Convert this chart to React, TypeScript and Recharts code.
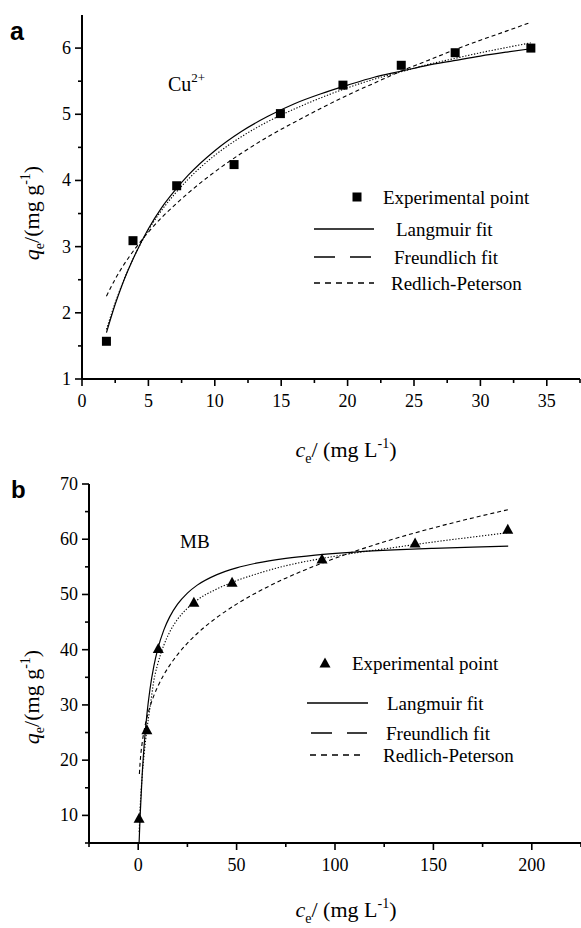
import React from 'react';
import { ComposedChart, Line, Scatter, XAxis, YAxis, Legend } from 'recharts';

// ---------- Panel a : Cu2+ ----------
const cuExpX = [1.84, 3.84, 7.13, 11.45, 14.94, 19.65, 24.04, 28.1, 33.8];
const cuExpY = [1.57, 3.09, 3.92, 4.24, 5.01, 5.44, 5.74, 5.93, 6.0];
const cuFitX = [1.84, 2.5, 3, 4, 5, 6, 7, 8, 10, 12, 14, 16, 18, 20, 22, 24, 26, 28, 30, 32, 33.8];
const cuLangmuir = [1.7, 2.13, 2.41, 2.88, 3.27, 3.59, 3.85, 4.08, 4.45, 4.74, 4.97, 5.16, 5.31, 5.44, 5.56, 5.65, 5.74, 5.81, 5.88, 5.94, 5.99];
const cuFreundlich = [2.25, 2.51, 2.68, 2.97, 3.22, 3.44, 3.63, 3.81, 4.13, 4.41, 4.66, 4.88, 5.09, 5.29, 5.47, 5.65, 5.81, 5.97, 6.12, 6.26, 6.39];
const cuRedlich = [1.75, 2.15, 2.42, 2.88, 3.25, 3.55, 3.8, 4.02, 4.38, 4.66, 4.89, 5.08, 5.25, 5.4, 5.53, 5.64, 5.75, 5.84, 5.93, 6.01, 6.08];
const aXTicks = [0, 2.5, 5, 7.5, 10, 12.5, 15, 17.5, 20, 22.5, 25, 27.5, 30, 32.5, 35, 37.5];
const aXMajor = [0, 5, 10, 15, 20, 25, 30, 35];
const aYTicks = [1, 1.5, 2, 2.5, 3, 3.5, 4, 4.5, 5, 5.5, 6];
const aYMajor = [1, 2, 3, 4, 5, 6];

// ---------- Panel b : MB ----------
const mbExpX = [0.45, 4.4, 10.2, 28.3, 47.7, 93.4, 140.7, 187.8];
const mbExpY = [9.5, 25.5, 40.2, 48.6, 52.2, 56.4, 59.3, 61.8];
const mbLangX = [0.45, 1, 2, 3, 4.4, 6, 8, 10, 13, 16, 20, 25, 30, 40, 50, 60, 75, 90, 110, 130, 150, 170, 188];
const mbLangmuir = [4.98, 10.05, 17.23, 22.61, 28.22, 32.89, 37.11, 40.2, 43.55, 45.94, 48.24, 50.25, 51.69, 53.6, 54.82, 55.66, 56.53, 57.13, 57.68, 58.07, 58.35, 58.58, 58.74];
const mbFreuX = [0.6, 1, 2, 3, 4.4, 6, 8, 10, 13, 16, 20, 25, 30, 40, 50, 60, 75, 90, 110, 130, 150, 170, 188];
const mbFreundlich = [17.5, 19.7, 23.09, 25.33, 27.66, 29.69, 31.72, 33.38, 35.45, 37.17, 39.12, 41.17, 42.93, 45.85, 48.25, 50.31, 52.95, 55.21, 57.8, 60.06, 62.06, 63.86, 65.35];
const mbRedX = [0.5, 1, 2, 3, 4.4, 6, 8, 10, 13, 16, 20, 25, 30, 40, 50, 60, 75, 90, 110, 130, 150, 170, 188];
const mbRedlich = [7.0, 11.5, 17.0, 21.0, 25.5, 29.5, 34.5, 37.5, 40.8, 43.2, 45.5, 47.5, 49.0, 51.0, 52.5, 53.7, 55.2, 56.3, 57.5, 58.5, 59.5, 60.4, 61.2];
const bXTicks = [-25, 0, 25, 50, 75, 100, 125, 150, 175, 200, 225];
const bXMajor = [0, 50, 100, 150, 200];
const bYTicks = [5, 10, 15, 20, 25, 30, 35, 40, 45, 50, 55, 60, 65, 70];
const bYMajor = [10, 20, 30, 40, 50, 60, 70];

const legendNames = ['Experimental point', 'Langmuir fit', 'Freundlich fit', 'Redlich-Peterson'];

const zip = (xs: number[], ys: number[]) => xs.map((x, i) => ({ x, y: ys[i] }));

const SERIF = '"Liberation Serif", "Times New Roman", serif';
const SANS = '"Liberation Sans", Arial, sans-serif';
const TICK_FS = 18;
const LEG_FS = 19;

const makeXTick = (majors: number[]) => (props: any) => {
  const { x, y, payload } = props;
  const v = payload.value;
  const isMajor = majors.includes(v);
  return (
    <g>
      <line x1={x} x2={x} y1={y} y2={y + (isMajor ? 7 : 4)} stroke="#000" strokeWidth={1.6} />
      {isMajor && (
        <text x={x} y={y + 27.5} textAnchor="middle" fontFamily={SERIF} fontSize={TICK_FS} fill="#000">
          {v}
        </text>
      )}
    </g>
  );
};

const makeYTick = (majors: number[]) => (props: any) => {
  const { x, y, payload } = props;
  const v = payload.value;
  const isMajor = majors.includes(v);
  return (
    <g>
      <line x1={x} x2={x - (isMajor ? 7 : 4)} y1={y} y2={y} stroke="#000" strokeWidth={1.6} />
      {isMajor && (
        <text x={x - 11} y={y + 6} textAnchor="end" fontFamily={SERIF} fontSize={TICK_FS} fill="#000">
          {v}
        </text>
      )}
    </g>
  );
};

const Square = (props: any) => {
  const { cx, cy } = props;
  if (cx == null || cy == null) return null;
  return <rect x={cx - 4.5} y={cy - 4.5} width={9} height={9} fill="#000" />;
};

const Triangle = (props: any) => {
  const { cx, cy } = props;
  if (cx == null || cy == null) return null;
  return <path d={`M${cx},${cy - 5.5} L${cx + 5.5},${cy + 4.5} L${cx - 5.5},${cy + 4.5} Z`} fill="#000" />;
};

const LegendBox = ({ marker, rows }: { marker: 'square' | 'triangle'; rows: any }) => {
  const r = rows;
  return (
    <svg width={280} height={140} style={{ overflow: 'visible' }}>
      {marker === 'square' ? (
        <rect x={r.mx - 4.5} y={r.y0 - 4.5} width={9} height={9} fill="#000" />
      ) : (
        <path d={`M${r.mx},${r.y0 - 5.5} L${r.mx + 5.5},${r.y0 + 4.5} L${r.mx - 5.5},${r.y0 + 4.5} Z`} fill="#000" />
      )}
      <text x={r.tx0} y={r.y0 + 6.5} fontFamily={SERIF} fontSize={LEG_FS} fill="#000">{legendNames[0]}</text>
      <line x1={r.l1[0]} x2={r.l1[1]} y1={r.y1} y2={r.y1} stroke="#000" strokeWidth={1.3} />
      <text x={r.tx1} y={r.y1 + 6.5} fontFamily={SERIF} fontSize={LEG_FS} fill="#000">{legendNames[1]}</text>
      <line x1={r.l2[0]} x2={r.l2[1]} y1={r.y2} y2={r.y2} stroke="#000" strokeWidth={1.3} strokeDasharray="21 15" />
      <text x={r.tx2} y={r.y2 + 6.5} fontFamily={SERIF} fontSize={LEG_FS} fill="#000">{legendNames[2]}</text>
      <line x1={r.l3[0]} x2={r.l3[1]} y1={r.y3} y2={r.y3} stroke="#000" strokeWidth={1.3} strokeDasharray="6 5" />
      <text x={r.tx3} y={r.y3 + 6.5} fontFamily={SERIF} fontSize={LEG_FS} fill="#000">{legendNames[3]}</text>
    </svg>
  );
};

const AX = makeXTick(aXMajor);
const AY = makeYTick(aYMajor);
const BX = makeXTick(bXMajor);
const BY = makeYTick(bYMajor);

export default function App() {
  const aLeg = { mx: 57, y0: 17, tx0: 83, l1: [14, 74], y1: 49, tx1: 96, l2: [14, 74], y2: 77, tx2: 94, l3: [14, 74], y3: 103, tx3: 91 };
  const bLeg = { mx: 25, y0: 23, tx0: 52, l1: [7, 68], y1: 63, tx1: 87, l2: [11, 67], y2: 93, tx2: 86, l3: [10, 63], y3: 115, tx3: 83 };
  return (
    <div style={{ position: 'absolute', left: 0, top: 0, width: 581, height: 928, background: '#fff' }}>
      <div style={{ position: 'absolute', left: 0, top: 0 }}>
        <ComposedChart width={581} height={440} margin={{ top: 15, right: 1, left: 22, bottom: 31 }}>
          <XAxis
            dataKey="x"
            type="number"
            domain={[0, 37.5]}
            ticks={aXTicks}
            interval={0}
            allowDataOverflow
            height={30}
            tickSize={0}
            tickMargin={0}
            tickLine={false}
            axisLine={{ stroke: '#000', strokeWidth: 2 }}
            tick={AX}
          />
          <YAxis
            type="number"
            domain={[1, 6.5]}
            ticks={aYTicks}
            interval={0}
            allowDataOverflow
            width={60}
            tickSize={0}
            tickMargin={0}
            tickLine={false}
            axisLine={{ stroke: '#000', strokeWidth: 2 }}
            tick={AY}
          />
          <Line data={zip(cuFitX, cuLangmuir)} dataKey="y" type="monotone" stroke="#000" strokeWidth={1.2} dot={false} activeDot={false} isAnimationActive={false} />
          <Line data={zip(cuFitX, cuFreundlich)} dataKey="y" type="monotone" stroke="#000" strokeWidth={1.1} strokeDasharray="4 3" dot={false} activeDot={false} isAnimationActive={false} />
          <Line data={zip(cuFitX, cuRedlich)} dataKey="y" type="monotone" stroke="#000" strokeWidth={1.1} strokeDasharray="1.3 1.7" dot={false} activeDot={false} isAnimationActive={false} />
          <Scatter data={zip(cuExpX, cuExpY)} dataKey="y" shape={Square} isAnimationActive={false} />
          <Legend
            layout="vertical"
            align="center"
            verticalAlign="middle"
            wrapperStyle={{ left: 300, top: 180, width: 280, height: 140 }}
            content={() => <LegendBox marker="square" rows={aLeg} />}
          />
        </ComposedChart>
      </div>
      <div style={{ position: 'absolute', left: 0, top: 440 }}>
        <ComposedChart width={581} height={488} margin={{ top: 44, right: 0, left: 29, bottom: 55 }}>
          <XAxis
            dataKey="x"
            type="number"
            domain={[-25, 225]}
            ticks={bXTicks}
            interval={0}
            allowDataOverflow
            height={30}
            tickSize={0}
            tickMargin={0}
            tickLine={false}
            axisLine={{ stroke: '#000', strokeWidth: 2 }}
            tick={BX}
          />
          <YAxis
            type="number"
            domain={[5, 70]}
            ticks={bYTicks}
            interval={0}
            allowDataOverflow
            width={60}
            tickSize={0}
            tickMargin={0}
            tickLine={false}
            axisLine={{ stroke: '#000', strokeWidth: 2 }}
            tick={BY}
          />
          <Line data={zip(mbLangX, mbLangmuir)} dataKey="y" type="monotone" stroke="#000" strokeWidth={1.2} dot={false} activeDot={false} isAnimationActive={false} />
          <Line data={zip(mbFreuX, mbFreundlich)} dataKey="y" type="monotone" stroke="#000" strokeWidth={1.1} strokeDasharray="4 3" dot={false} activeDot={false} isAnimationActive={false} />
          <Line data={zip(mbRedX, mbRedlich)} dataKey="y" type="monotone" stroke="#000" strokeWidth={1.1} strokeDasharray="1.3 1.7" dot={false} activeDot={false} isAnimationActive={false} />
          <Scatter data={zip(mbExpX, mbExpY)} dataKey="y" shape={Triangle} isAnimationActive={false} />
          <Legend
            layout="vertical"
            align="center"
            verticalAlign="middle"
            wrapperStyle={{ left: 300, top: 200, width: 280, height: 140 }}
            content={() => <LegendBox marker="triangle" rows={bLeg} />}
          />
        </ComposedChart>
      </div>
      <svg width={581} height={928} style={{ position: 'absolute', left: 0, top: 0, pointerEvents: 'none' }}>
        <text x={10} y={40} fontFamily={SANS} fontWeight="bold" fontSize={25} fill="#000">a</text>
        <text x={11} y={498} fontFamily={SANS} fontWeight="bold" fontSize={24} fill="#000">b</text>
        <text x={168} y={91} fontFamily={SERIF} fontSize={20} fill="#000">
          Cu<tspan fontSize={13} dy={-9}>2+</tspan>
        </text>
        <text x={180} y={548} fontFamily={SERIF} fontSize={19} fill="#000">MB</text>
        {[213, 697].map((cy) => (
          <text key={cy} transform={`translate(39,${cy}) rotate(-90)`} textAnchor="middle" fontFamily={SERIF} fontSize={22} fill="#000">
            <tspan fontStyle="italic">q</tspan>
            <tspan fontSize={14} dy={5}>e</tspan>
            <tspan dy={-5}>/(mg g</tspan>
            <tspan fontSize={14} dy={-9}>-1</tspan>
            <tspan dy={9}>)</tspan>
          </text>
        ))}
        {[457, 917].map((by) => (
          <text key={by} x={346} y={by} textAnchor="middle" fontFamily={SERIF} fontSize={22} fill="#000">
            <tspan fontStyle="italic">c</tspan>
            <tspan fontSize={14} dy={6}>e</tspan>
            <tspan dy={-6}>/ (mg L</tspan>
            <tspan fontSize={14} dy={-9}>-1</tspan>
            <tspan dy={9}>)</tspan>
          </text>
        ))}
      </svg>
    </div>
  );
}
